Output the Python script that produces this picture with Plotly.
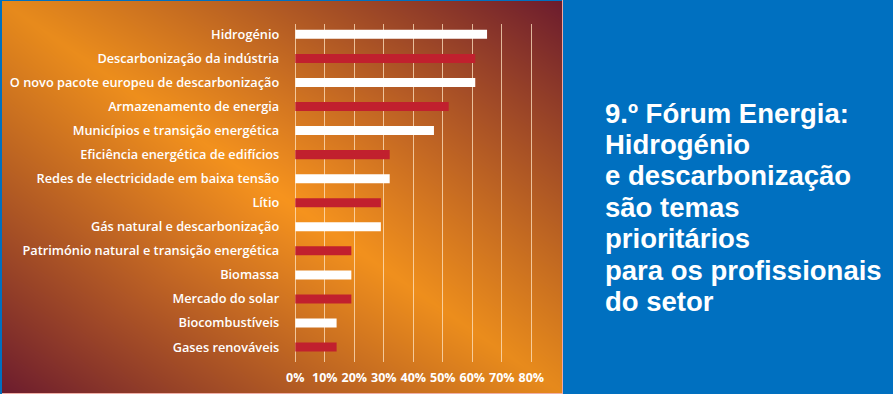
import base64, struct, zlib
import numpy as np
import plotly.graph_objects as go

# ---------------- data ----------------
categories = [
    "Hidrogénio",
    "Descarbonização da indústria",
    "O novo pacote europeu de descarbonização",
    "Armazenamento de energia",
    "Municípios e transição energética",
    "Eficiência energética de edifícios",
    "Redes de electricidade em baixa tensão",
    "Lítio",
    "Gás natural e descarbonização",
    "Património natural e transição energética",
    "Biomassa",
    "Mercado do solar",
    "Biocombustíveis",
    "Gases renováveis",
]
values = [65, 61, 61, 52, 47, 32, 32, 29, 29, 19, 19, 19, 14, 14]
tick_values = [0, 10, 20, 30, 40, 50, 60, 70, 80]
tick_labels = ["0%", "10%", "20%", "30%", "40%", "50%", "60%", "70%", "80%"]
title_lines = [
    "9.º Fórum Energia:",
    "Hidrogénio",
    "e descarbonização",
    "são temas",
    "prioritários",
    "para os profissionais",
    "do setor",
]

# ---------------- styling ----------------
W, H = 893, 394
PANEL_W = 563
BLUE = "#0070c0"
WHITE = "#ffffff"
RED = "#c1202e"
bar_colors = [WHITE if i % 2 == 0 else RED for i in range(len(categories))]

# gradient background image for the left panel
def gradient_png(w, h):
    x = np.arange(w)[None, :] / (w - 1)
    y = np.arange(h)[:, None] / (h - 1)
    t = np.abs(x - y)              # 0 on the bright diagonal, 1 at maroon corners
    s = np.abs(x + y - 1)          # along the diagonal
    f = np.clip(t, 0, 1) ** 1.05
    orange = np.array([247, 148, 30], float)
    maroon = np.array([108, 28, 46], float)
    img = orange[None, None, :] * (1 - f[..., None]) + maroon[None, None, :] * f[..., None]
    img = img * (1 - 0.07 * s[..., None])
    arr = np.clip(img, 0, 255).astype(np.uint8)
    raw = b"".join(b"\x00" + arr[i].tobytes() for i in range(h))

    def chunk(tag, data):
        c = struct.pack(">I", len(data)) + tag + data
        return c + struct.pack(">I", zlib.crc32(tag + data) & 0xFFFFFFFF)

    png = (b"\x89PNG\r\n\x1a\n"
           + chunk(b"IHDR", struct.pack(">IIBBBBB", w, h, 8, 2, 0, 0, 0))
           + chunk(b"IDAT", zlib.compress(raw, 9))
           + chunk(b"IEND", b""))
    return "data:image/png;base64," + base64.b64encode(png).decode()

# ---------------- axes geometry (pixels -> paper) ----------------
px_per_unit = 2.95
x0_px = 295.3
xr = [-0.5, 80.5]
xdom = [(x0_px + xr[0] * px_per_unit) / W, (x0_px + xr[1] * px_per_unit) / W]
ydom = [1 - 362 / H, 1 - 24 / H]

fig = go.Figure()
fig.add_trace(go.Bar(
    x=values, y=categories, orientation="h",
    marker=dict(color=bar_colors, line=dict(width=0)),
    width=0.375, hoverinfo="x+y",
))

LABEL_FONT = "Open Sans"
TITLE_TOP = 113.0
TITLE_STEP = 31.45
annotations = [
    dict(
        text=line, xref="paper", yref="paper",
        x=603 / W, y=1 - (TITLE_TOP + i * TITLE_STEP) / H,
        xanchor="left", yanchor="middle", align="left", showarrow=False,
        font=dict(family="Liberation Sans", size=27.5, color=WHITE, weight="bold"),
    )
    for i, line in enumerate(title_lines)
]

fig.update_layout(
    width=W, height=H,
    margin=dict(l=0, r=0, t=0, b=0, autoexpand=False),
    paper_bgcolor=BLUE,
    plot_bgcolor="rgba(0,0,0,0)",
    showlegend=False,
    xaxis=dict(
        domain=xdom, range=xr,
        tickmode="array", tickvals=tick_values, ticktext=tick_labels,
        showgrid=True, gridcolor="rgba(255,228,195,0.75)", gridwidth=1,
        zeroline=False, showline=False,
        ticks="outside", ticklen=4, tickcolor="rgba(0,0,0,0)",
        tickfont=dict(family=LABEL_FONT, size=12.5, color=WHITE, weight="bold"),
        fixedrange=True,
    ),
    yaxis=dict(
        domain=ydom,
        categoryorder="array", categoryarray=categories,
        range=[13.62, -0.43],
        showgrid=False, zeroline=False, showline=False,
        ticks="outside", ticklen=11, tickcolor="rgba(0,0,0,0)",
        tickfont=dict(family=LABEL_FONT, size=12.75, color=WHITE, weight=600),
        fixedrange=True,
    ),
    images=[dict(
        source=gradient_png(PANEL_W, H),
        xref="paper", yref="paper", x=0, y=1,
        sizex=PANEL_W / W, sizey=1, sizing="stretch",
        xanchor="left", yanchor="top", layer="below",
    )],
    shapes=[
        dict(type="rect", xref="paper", yref="paper", x0=0, x1=2 / W, y0=0, y1=1,
             fillcolor=BLUE, line=dict(width=0), layer="above"),
        dict(type="rect", xref="paper", yref="paper", x0=0, x1=PANEL_W / W, y0=1 - 1 / H, y1=1,
             fillcolor=BLUE, line=dict(width=0), layer="above"),
        dict(type="rect", xref="paper", yref="paper", x0=(PANEL_W - 1) / W, x1=PANEL_W / W, y0=0, y1=1,
             fillcolor="#f0a8a0", line=dict(width=0), layer="above"),
        dict(type="rect", xref="paper", yref="paper", x0=2 / W, x1=PANEL_W / W, y0=0, y1=1 / H,
             fillcolor="#f0b0a8", line=dict(width=0), layer="above"),
    ],
    annotations=annotations,
)

fig.write_html(
    "out.html",
    config={"displayModeBar": False},
    post_script="document.body.style.margin='0px';document.body.style.padding='0px';",
)
